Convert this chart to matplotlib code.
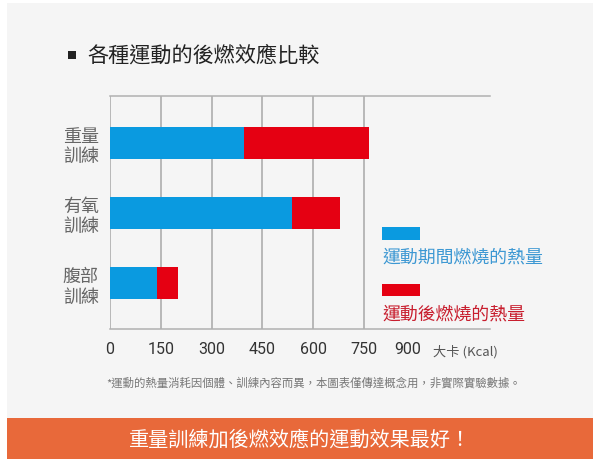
import matplotlib
matplotlib.use("Agg")
import matplotlib.pyplot as plt
from matplotlib.patches import Rectangle
from matplotlib.transforms import ScaledTranslation

plt.rcParams['font.family'] = ['Noto Sans CJK TC', 'DejaVu Sans']

categories = ["重量\n訓練", "有氧\n訓練", "腹部\n訓練"]
during = [397, 538, 140]
after = [368, 140, 62]
xticks = [0, 150, 300, 450, 600, 750, 900]
grid_x = [0, 150, 300, 450, 600, 750]
legend_labels = ["運動期間燃燒的熱量", "運動後燃燒的熱量"]
title = "各種運動的後燃效應比較"
unit = "大卡 (Kcal)"
note = "*運動的熱量消耗因個體、訓練內容而異，本圖表僅傳達概念用，非實際實驗數據。"
banner = "重量訓練加後燃效應的運動效果最好！"

BLUE = "#0a9ae0"
RED = "#e50012"
W, H = 600, 464

fig = plt.figure(figsize=(6, 4.64), dpi=100)
fig.patch.set_facecolor("white")

# background panel
fig.add_artist(Rectangle((7 / W, 1 - 419 / H), 586 / W, 415 / H,
                         transform=fig.transFigure, facecolor="#f5f5f5",
                         edgecolor="none", zorder=0))
# banner
fig.add_artist(Rectangle((7 / W, 1 - 460 / H), 586 / W, 41 / H,
                         transform=fig.transFigure, facecolor="#e8693a",
                         edgecolor="none", zorder=0))

ax = fig.add_axes([110 / W, 1 - 330 / H, 380 / W, 233 / H])
ax.set_facecolor("none")
ypos = list(range(len(categories)))
ax.barh(ypos, during, height=0.457, color=BLUE, zorder=3)
ax.barh(ypos, after, left=during, height=0.457, color=RED, zorder=3)
ax.set_xlim(0, 1122)
ax.set_ylim(2.65, -0.671)
for gx in grid_x:
    ax.axvline(gx, color="#a8a8a8", lw=1.1, zorder=1)
for s in ["left", "right"]:
    ax.spines[s].set_visible(False)
for s in ["top", "bottom"]:
    ax.spines[s].set_color("#b0b0b0")
    ax.spines[s].set_linewidth(1.1)
ax.set_xticks(xticks)
ax.set_xticklabels([str(v) for v in xticks], fontsize=11.5, color="#333333",
                   fontfamily=["Roboto", "DejaVu Sans"])
ax.tick_params(axis="x", length=0, pad=9)
last = ax.get_xticklabels()[-1]
last.set_transform(last.get_transform() + ScaledTranslation(-7 / 100, 0, fig.dpi_scale_trans))
ax.set_yticks(ypos)
ax.set_yticklabels(categories, fontsize=13, color="#666666", linespacing=1.15)
ax.tick_params(axis="y", length=0, pad=8)

fig.text(433 / W, 1 - 352 / H, unit, fontsize=9.5, color="#555555", va="center", ha="left")

# title
fig.add_artist(Rectangle((68 / W, 1 - 60 / H), 8 / W, 8 / H,
                         transform=fig.transFigure, facecolor="#222222", edgecolor="none"))
fig.text(87 / W, 1 - 56 / H, title, fontsize=15.2, color="#222222", va="center", ha="left")

# legend
fig.add_artist(Rectangle((382 / W, 1 - 241 / H), 38 / W, 13 / H,
                         transform=fig.transFigure, facecolor=BLUE, edgecolor="none"))
fig.text(382 / W, 1 - 258 / H, legend_labels[0], fontsize=12.9, color="#3d98d3",
         va="center", ha="left")
fig.add_artist(Rectangle((382 / W, 1 - 297 / H), 38 / W, 12 / H,
                         transform=fig.transFigure, facecolor=RED, edgecolor="none"))
fig.text(382 / W, 1 - 315 / H, legend_labels[1], fontsize=12.9, color="#c81e2e",
         va="center", ha="left")

# footnote
fig.text(314 / W, 1 - 383 / H, note, fontsize=8.2, color="#777777", va="center", ha="center")

# banner text
fig.text(300 / W, 1 - 440 / H, banner, fontsize=14.5, color="white", va="center", ha="center")

fig.savefig("out.png", dpi=100)
